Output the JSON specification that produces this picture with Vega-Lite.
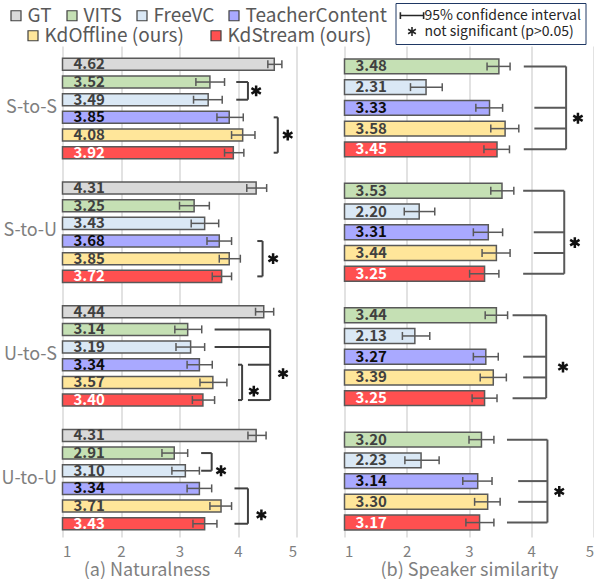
{
  "$schema": "https://vega.github.io/schema/vega-lite/v6.json",
  "padding": {"left": 0.5, "top": 2, "right": 0, "bottom": 0},
  "bounds": "flush",
  "spacing": 48,
  "config": {
    "font": "Noto Sans CJK JP",
    "view": {"stroke": null},
    "axis": {"labelFont": "Noto Sans CJK JP", "titleFont": "Noto Sans CJK JP"},
    "legend": {"labelFont": "Noto Sans CJK JP"}
  },
  "datasets": {
    "nat": [
      {"cond": "S-to-S", "system": "GT", "row": "S-to-S / GT", "score": 4.62, "lo": 4.51, "hi": 4.75},
      {"cond": "S-to-S", "system": "VITS", "row": "S-to-S / VITS", "score": 3.52, "lo": 3.28, "hi": 3.77},
      {"cond": "S-to-S", "system": "FreeVC", "row": "S-to-S / FreeVC", "score": 3.49, "lo": 3.24, "hi": 3.73},
      {"cond": "S-to-S", "system": "TeacherContent", "row": "S-to-S / TeacherContent", "score": 3.85, "lo": 3.64, "hi": 4.09},
      {"cond": "S-to-S", "system": "KdOffline (ours)", "row": "S-to-S / KdOffline (ours)", "score": 4.08, "lo": 3.89, "hi": 4.29},
      {"cond": "S-to-S", "system": "KdStream (ours)", "row": "S-to-S / KdStream (ours)", "score": 3.92, "lo": 3.77, "hi": 4.10},
      {"cond": "S-to-U", "system": "GT", "row": "S-to-U / GT", "score": 4.31, "lo": 4.15, "hi": 4.49},
      {"cond": "S-to-U", "system": "VITS", "row": "S-to-U / VITS", "score": 3.25, "lo": 3.00, "hi": 3.51},
      {"cond": "S-to-U", "system": "FreeVC", "row": "S-to-U / FreeVC", "score": 3.43, "lo": 3.20, "hi": 3.67},
      {"cond": "S-to-U", "system": "TeacherContent", "row": "S-to-U / TeacherContent", "score": 3.68, "lo": 3.47, "hi": 3.89},
      {"cond": "S-to-U", "system": "KdOffline (ours)", "row": "S-to-U / KdOffline (ours)", "score": 3.85, "lo": 3.68, "hi": 4.04},
      {"cond": "S-to-U", "system": "KdStream (ours)", "row": "S-to-U / KdStream (ours)", "score": 3.72, "lo": 3.56, "hi": 3.89},
      {"cond": "U-to-S", "system": "GT", "row": "U-to-S / GT", "score": 4.44, "lo": 4.30, "hi": 4.61},
      {"cond": "U-to-S", "system": "VITS", "row": "U-to-S / VITS", "score": 3.14, "lo": 2.92, "hi": 3.38},
      {"cond": "U-to-S", "system": "FreeVC", "row": "U-to-S / FreeVC", "score": 3.19, "lo": 2.94, "hi": 3.43},
      {"cond": "U-to-S", "system": "TeacherContent", "row": "U-to-S / TeacherContent", "score": 3.34, "lo": 3.13, "hi": 3.56},
      {"cond": "U-to-S", "system": "KdOffline (ours)", "row": "U-to-S / KdOffline (ours)", "score": 3.57, "lo": 3.35, "hi": 3.81},
      {"cond": "U-to-S", "system": "KdStream (ours)", "row": "U-to-S / KdStream (ours)", "score": 3.40, "lo": 3.22, "hi": 3.60},
      {"cond": "U-to-U", "system": "GT", "row": "U-to-U / GT", "score": 4.31, "lo": 4.17, "hi": 4.48},
      {"cond": "U-to-U", "system": "VITS", "row": "U-to-U / VITS", "score": 2.91, "lo": 2.70, "hi": 3.14},
      {"cond": "U-to-U", "system": "FreeVC", "row": "U-to-U / FreeVC", "score": 3.10, "lo": 2.87, "hi": 3.34},
      {"cond": "U-to-U", "system": "TeacherContent", "row": "U-to-U / TeacherContent", "score": 3.34, "lo": 3.13, "hi": 3.55},
      {"cond": "U-to-U", "system": "KdOffline (ours)", "row": "U-to-U / KdOffline (ours)", "score": 3.71, "lo": 3.52, "hi": 3.89},
      {"cond": "U-to-U", "system": "KdStream (ours)", "row": "U-to-U / KdStream (ours)", "score": 3.43, "lo": 3.23, "hi": 3.64}
    ],
    "natBracket": [
      {"row": "S-to-S / VITS", "row2": "S-to-S / FreeVC", "x": 4.17},
      {"row": "S-to-S / TeacherContent", "row2": "S-to-S / KdStream (ours)", "x": 4.68},
      {"row": "S-to-U / TeacherContent", "row2": "S-to-U / KdStream (ours)", "x": 4.42},
      {"row": "U-to-S / VITS", "row2": "U-to-S / KdStream (ours)", "x": 4.55},
      {"row": "U-to-S / TeacherContent", "row2": "U-to-S / KdStream (ours)", "x": 4.07},
      {"row": "U-to-U / VITS", "row2": "U-to-U / FreeVC", "x": 3.55},
      {"row": "U-to-U / TeacherContent", "row2": "U-to-U / KdStream (ours)", "x": 4.17}
    ],
    "natStub": [
      {"row": "S-to-S / VITS", "x": 3.97, "x2": 4.17},
      {"row": "S-to-S / FreeVC", "x": 3.97, "x2": 4.17},
      {"row": "S-to-S / TeacherContent", "x": 4.61, "x2": 4.68},
      {"row": "S-to-S / KdStream (ours)", "x": 4.61, "x2": 4.68},
      {"row": "S-to-U / TeacherContent", "x": 4.33, "x2": 4.42},
      {"row": "S-to-U / KdStream (ours)", "x": 4.33, "x2": 4.42},
      {"row": "U-to-S / VITS", "x": 3.60, "x2": 4.55},
      {"row": "U-to-S / FreeVC", "x": 3.60, "x2": 4.55},
      {"row": "U-to-S / TeacherContent", "x": 4.17, "x2": 4.55},
      {"row": "U-to-S / KdStream (ours)", "x": 4.17, "x2": 4.55},
      {"row": "U-to-S / TeacherContent", "x": 4.00, "x2": 4.07},
      {"row": "U-to-S / KdStream (ours)", "x": 4.00, "x2": 4.07},
      {"row": "U-to-U / VITS", "x": 3.37, "x2": 3.55},
      {"row": "U-to-U / FreeVC", "x": 3.37, "x2": 3.55},
      {"row": "U-to-U / TeacherContent", "x": 3.94, "x2": 4.17},
      {"row": "U-to-U / KdStream (ours)", "x": 3.94, "x2": 4.17}
    ],
    "natStar": [
      {"row": "S-to-S / VITS", "x": 4.31, "place": "between", "note": "not significant (p>0.05)"},
      {"row": "S-to-S / KdOffline (ours)", "x": 4.85, "place": "at", "note": "not significant (p>0.05)"},
      {"row": "S-to-U / KdOffline (ours)", "x": 4.60, "place": "at", "note": "not significant (p>0.05)"},
      {"row": "U-to-S / TeacherContent", "x": 4.77, "place": "between", "note": "not significant (p>0.05)"},
      {"row": "U-to-S / KdOffline (ours)", "x": 4.27, "place": "between", "note": "not significant (p>0.05)"},
      {"row": "U-to-U / FreeVC", "x": 3.71, "place": "at", "note": "not significant (p>0.05)"},
      {"row": "U-to-U / KdOffline (ours)", "x": 4.40, "place": "between", "note": "not significant (p>0.05)"}
    ],
    "spk": [
      {"cond": "S-to-S", "system": "VITS", "row": "S-to-S / VITS", "score": 3.48, "lo": 3.29, "hi": 3.66},
      {"cond": "S-to-S", "system": "FreeVC", "row": "S-to-S / FreeVC", "score": 2.31, "lo": 2.06, "hi": 2.57},
      {"cond": "S-to-S", "system": "TeacherContent", "row": "S-to-S / TeacherContent", "score": 3.33, "lo": 3.11, "hi": 3.54},
      {"cond": "S-to-S", "system": "KdOffline (ours)", "row": "S-to-S / KdOffline (ours)", "score": 3.58, "lo": 3.35, "hi": 3.80},
      {"cond": "S-to-S", "system": "KdStream (ours)", "row": "S-to-S / KdStream (ours)", "score": 3.45, "lo": 3.24, "hi": 3.65},
      {"cond": "S-to-U", "system": "VITS", "row": "S-to-U / VITS", "score": 3.53, "lo": 3.35, "hi": 3.72},
      {"cond": "S-to-U", "system": "FreeVC", "row": "S-to-U / FreeVC", "score": 2.20, "lo": 1.96, "hi": 2.45},
      {"cond": "S-to-U", "system": "TeacherContent", "row": "S-to-U / TeacherContent", "score": 3.31, "lo": 3.07, "hi": 3.54},
      {"cond": "S-to-U", "system": "KdOffline (ours)", "row": "S-to-U / KdOffline (ours)", "score": 3.44, "lo": 3.21, "hi": 3.66},
      {"cond": "S-to-U", "system": "KdStream (ours)", "row": "S-to-U / KdStream (ours)", "score": 3.25, "lo": 3.01, "hi": 3.48},
      {"cond": "U-to-S", "system": "VITS", "row": "U-to-S / VITS", "score": 3.44, "lo": 3.26, "hi": 3.62},
      {"cond": "U-to-S", "system": "FreeVC", "row": "U-to-S / FreeVC", "score": 2.13, "lo": 1.93, "hi": 2.37},
      {"cond": "U-to-S", "system": "TeacherContent", "row": "U-to-S / TeacherContent", "score": 3.27, "lo": 3.07, "hi": 3.47},
      {"cond": "U-to-S", "system": "KdOffline (ours)", "row": "U-to-S / KdOffline (ours)", "score": 3.39, "lo": 3.18, "hi": 3.60},
      {"cond": "U-to-S", "system": "KdStream (ours)", "row": "U-to-S / KdStream (ours)", "score": 3.25, "lo": 3.05, "hi": 3.45},
      {"cond": "U-to-U", "system": "VITS", "row": "U-to-U / VITS", "score": 3.20, "lo": 3.00, "hi": 3.40},
      {"cond": "U-to-U", "system": "FreeVC", "row": "U-to-U / FreeVC", "score": 2.23, "lo": 1.97, "hi": 2.52},
      {"cond": "U-to-U", "system": "TeacherContent", "row": "U-to-U / TeacherContent", "score": 3.14, "lo": 2.90, "hi": 3.37},
      {"cond": "U-to-U", "system": "KdOffline (ours)", "row": "U-to-U / KdOffline (ours)", "score": 3.30, "lo": 3.09, "hi": 3.50},
      {"cond": "U-to-U", "system": "KdStream (ours)", "row": "U-to-U / KdStream (ours)", "score": 3.17, "lo": 2.95, "hi": 3.40}
    ],
    "spkBracket": [
      {"row": "S-to-S / VITS", "row2": "S-to-S / KdStream (ours)", "x": 4.56},
      {"row": "S-to-U / VITS", "row2": "S-to-U / KdStream (ours)", "x": 4.53},
      {"row": "U-to-S / VITS", "row2": "U-to-S / KdStream (ours)", "x": 4.24},
      {"row": "U-to-U / VITS", "row2": "U-to-U / KdStream (ours)", "x": 4.26}
    ],
    "spkStub": [
      {"row": "S-to-S / VITS", "x": 3.88, "x2": 4.56},
      {"row": "S-to-S / TeacherContent", "x": 4.05, "x2": 4.56},
      {"row": "S-to-S / KdOffline (ours)", "x": 4.05, "x2": 4.56},
      {"row": "S-to-S / KdStream (ours)", "x": 3.88, "x2": 4.56},
      {"row": "S-to-U / VITS", "x": 3.87, "x2": 4.53},
      {"row": "S-to-U / TeacherContent", "x": 4.04, "x2": 4.53},
      {"row": "S-to-U / KdOffline (ours)", "x": 4.04, "x2": 4.53},
      {"row": "S-to-U / KdStream (ours)", "x": 3.87, "x2": 4.53},
      {"row": "U-to-S / VITS", "x": 3.70, "x2": 4.24},
      {"row": "U-to-S / TeacherContent", "x": 3.87, "x2": 4.24},
      {"row": "U-to-S / KdOffline (ours)", "x": 3.87, "x2": 4.24},
      {"row": "U-to-S / KdStream (ours)", "x": 3.70, "x2": 4.24},
      {"row": "U-to-U / VITS", "x": 3.61, "x2": 4.26},
      {"row": "U-to-U / TeacherContent", "x": 3.79, "x2": 4.26},
      {"row": "U-to-U / KdOffline (ours)", "x": 3.79, "x2": 4.26},
      {"row": "U-to-U / KdStream (ours)", "x": 3.61, "x2": 4.26}
    ],
    "spkStar": [
      {"row": "S-to-S / TeacherContent", "x": 4.75, "place": "between", "note": "not significant (p>0.05)"},
      {"row": "S-to-U / TeacherContent", "x": 4.70, "place": "between", "note": "not significant (p>0.05)"},
      {"row": "U-to-S / TeacherContent", "x": 4.51, "place": "between", "note": "not significant (p>0.05)"},
      {"row": "U-to-U / TeacherContent", "x": 4.45, "place": "between", "note": "not significant (p>0.05)"}
    ]
  },
  "hconcat": [
    {
      "width": 234,
      "height": 491,
      "resolve": {"scale": {"fill": "independent"}, "legend": {"fill": "independent"}},
      "encoding": {
        "y": {
          "field": "row", "type": "nominal",
          "scale": {
            "domain": ["S-to-S / GT", "S-to-S / VITS", "S-to-S / FreeVC", "S-to-S / TeacherContent", "S-to-S / KdOffline (ours)", "S-to-S / KdStream (ours)", "gap 1",
                       "S-to-U / GT", "S-to-U / VITS", "S-to-U / FreeVC", "S-to-U / TeacherContent", "S-to-U / KdOffline (ours)", "S-to-U / KdStream (ours)", "gap 2",
                       "U-to-S / GT", "U-to-S / VITS", "U-to-S / FreeVC", "U-to-S / TeacherContent", "U-to-S / KdOffline (ours)", "U-to-S / KdStream (ours)", "gap 3",
                       "U-to-U / GT", "U-to-U / VITS", "U-to-U / FreeVC", "U-to-U / TeacherContent", "U-to-U / KdOffline (ours)", "U-to-U / KdStream (ours)"],
            "paddingInner": 0.32, "paddingOuter": 0.555, "align": 0.63
          },
          "axis": {
            "title": null, "domain": false, "ticks": false, "grid": false,
            "labelExpr": "indexof(datum.value, '/ FreeVC') >= 0 ? split(datum.value, ' / ')[0] : ''",
            "labelFontSize": 18, "labelColor": "#7f7f7f", "labelPadding": 6, "labelOffset": 8
          }
        },
        "x": {
          "field": "score", "type": "quantitative",
          "scale": {"domain": [1, 5], "nice": false, "zero": false},
          "axis": {
            "values": [1, 2, 3, 4, 5], "grid": true, "gridColor": "#d9d9d9", "gridWidth": 1.5,
            "domain": false, "ticks": false, "labelFontSize": 15, "labelColor": "#7f7f7f", "labelPadding": 7,
            "title": "(a) Naturalness", "titleFontSize": 18, "titleFontWeight": "normal", "titleColor": "#7f7f7f",
            "titlePadding": 2, "titleX": 84
          }
        }
      },
      "layer": [
        {
          "data": {"name": "nat"},
          "transform": [{"filter": {"field": "system", "oneOf": ["GT", "VITS", "FreeVC", "TeacherContent"]}}],
          "mark": {"type": "bar", "stroke": "#595959", "strokeWidth": 1.5},
          "encoding": {
            "x2": {"datum": 1},
            "fill": {
              "field": "system", "type": "nominal",
              "scale": {
                "domain": ["GT", "VITS", "FreeVC", "TeacherContent"],
                "range": ["#d9d9d9", "#c5e0b4", "#dae8f5", "#a9a9ff"]
              },
              "legend": {
                "orient": "none", "legendX": -56, "legendY": -40, "title": null, "direction": "horizontal",
                "labelFontSize": 19, "labelColor": "#595959",
                "symbolType": "square", "symbolSize": 100, "symbolStrokeColor": "#404040", "symbolStrokeWidth": 1.2,
                "columnPadding": 10, "labelOffset": 2, "labelLimit": 300
              }
            }
          }
        },
        {
          "data": {"name": "nat"},
          "transform": [{"filter": {"field": "system", "oneOf": ["KdOffline (ours)", "KdStream (ours)"]}}],
          "mark": {"type": "bar", "stroke": "#595959", "strokeWidth": 1.5},
          "encoding": {
            "x2": {"datum": 1},
            "fill": {
              "field": "system", "type": "nominal",
              "scale": {
                "domain": ["KdOffline (ours)", "KdStream (ours)"],
                "range": ["#ffe69a", "#ff5050"]
              },
              "legend": {
                "orient": "none", "legendX": -39, "legendY": -20, "title": null, "direction": "horizontal",
                "labelFontSize": 19, "labelColor": "#595959",
                "symbolType": "square", "symbolSize": 100, "symbolStrokeColor": "#404040", "symbolStrokeWidth": 1.2,
                "columnPadding": 22, "labelOffset": 2, "labelLimit": 300
              }
            }
          }
        },
        {
          "data": {"name": "nat"},
          "mark": {"type": "rule", "color": "#595959", "strokeWidth": 1.5},
          "encoding": {
            "x": {"field": "lo", "type": "quantitative"},
            "x2": {"field": "hi"}
          }
        },
        {
          "data": {"name": "nat"},
          "mark": {"type": "tick", "color": "#595959", "size": 8, "thickness": 1.5, "opacity": 1},
          "encoding": {"x": {"field": "lo", "type": "quantitative"}}
        },
        {
          "data": {"name": "nat"},
          "mark": {"type": "tick", "color": "#595959", "size": 8, "thickness": 1.5, "opacity": 1},
          "encoding": {"x": {"field": "hi", "type": "quantitative"}}
        },
        {
          "data": {"name": "nat"},
          "mark": {"type": "text", "align": "left", "baseline": "middle", "dx": 11, "fontSize": 15, "fontWeight": "bold"},
          "encoding": {
            "x": {"datum": 1, "type": "quantitative"},
            "text": {"field": "score", "type": "quantitative", "format": ".2f"},
            "color": {
              "condition": [
                {"test": "datum.system === 'KdStream (ours)'", "value": "#ffffff"},
                {"test": "datum.system === 'TeacherContent'", "value": "#0d0d0d"}
              ],
              "value": "#404040"
            }
          }
        },
        {
          "data": {"name": "natBracket"},
          "mark": {"type": "rule", "color": "#404040", "strokeWidth": 2},
          "encoding": {
            "x": {"field": "x", "type": "quantitative"},
            "y2": {"field": "row2"}
          }
        },
        {
          "data": {"name": "natStub"},
          "mark": {"type": "rule", "color": "#404040", "strokeWidth": 2},
          "encoding": {
            "x": {"field": "x", "type": "quantitative"},
            "x2": {"field": "x2"}
          }
        },
        {
          "data": {"name": "natStar"},
          "transform": [{"filter": "datum.place === 'at'"}],
          "mark": {"type": "point", "filled": false, "size": 324, "strokeWidth": 2.5, "color": "#111111", "opacity": 1},
          "encoding": {
            "x": {"field": "x", "type": "quantitative"},
            "shape": {
              "field": "note", "type": "nominal",
              "scale": {
                "domain": ["95% confidence interval", "not significant (p>0.05)"],
                "range": ["M-1.55,-0.45V0.45M-1.55,0H1.55M1.55,-0.45V0.45", "M0,-0.6V0.6M-0.52,-0.3L0.52,0.3M-0.52,0.3L0.52,-0.3"]
              },
              "legend": {
                "orient": "none", "legendX": 333, "legendY": -43, "title": null,
                "strokeColor": "#1f3864", "fillColor": "#ffffff", "padding": 4,
                "labelFontSize": 14, "labelColor": "#262626", "labelLimit": 300,
                "symbolSize": 225, "symbolStrokeColor": "#262626", "symbolStrokeWidth": 1.6,
                "symbolFillColor": "transparent", "rowPadding": 0, "labelOffset": 4, "symbolOffset": 4
              }
            }
          }
        },
        {
          "data": {"name": "natStar"},
          "transform": [{"filter": "datum.place === 'between'"}],
          "mark": {"type": "point", "filled": false, "size": 324, "strokeWidth": 2.5, "color": "#111111", "opacity": 1},
          "encoding": {
            "x": {"field": "x", "type": "quantitative"},
            "y": {"field": "row", "type": "nominal", "bandPosition": 1.235},
            "shape": {"field": "note", "type": "nominal"}
          }
        }
      ]
    },
    {
      "width": 249,
      "height": 491,
      "encoding": {
        "y": {
          "field": "row", "type": "nominal",
          "scale": {
            "domain": ["S-to-S / VITS", "S-to-S / FreeVC", "S-to-S / TeacherContent", "S-to-S / KdOffline (ours)", "S-to-S / KdStream (ours)", "gap 1",
                       "S-to-U / VITS", "S-to-U / FreeVC", "S-to-U / TeacherContent", "S-to-U / KdOffline (ours)", "S-to-U / KdStream (ours)", "gap 2",
                       "U-to-S / VITS", "U-to-S / FreeVC", "U-to-S / TeacherContent", "U-to-S / KdOffline (ours)", "U-to-S / KdStream (ours)", "gap 3",
                       "U-to-U / VITS", "U-to-U / FreeVC", "U-to-U / TeacherContent", "U-to-U / KdOffline (ours)", "U-to-U / KdStream (ours)"],
            "paddingInner": 0.28, "paddingOuter": 0.48, "align": 0.65
          },
          "axis": {"title": null, "domain": false, "ticks": false, "grid": false, "labels": false}
        },
        "x": {
          "field": "score", "type": "quantitative",
          "scale": {"domain": [1, 5], "nice": false, "zero": false},
          "axis": {
            "values": [1, 2, 3, 4, 5], "grid": true, "gridColor": "#d9d9d9", "gridWidth": 1.5,
            "domain": false, "ticks": false, "labelFontSize": 15, "labelColor": "#7f7f7f", "labelPadding": 7,
            "title": "(b) Speaker similarity", "titleFontSize": 18, "titleFontWeight": "normal", "titleColor": "#7f7f7f",
            "titlePadding": 2
          }
        }
      },
      "layer": [
        {
          "data": {"name": "spk"},
          "mark": {"type": "bar", "stroke": "#595959", "strokeWidth": 1.5},
          "encoding": {
            "x2": {"datum": 1},
            "fill": {
              "field": "system", "type": "nominal",
              "scale": {
                "domain": ["GT", "VITS", "FreeVC", "TeacherContent", "KdOffline (ours)", "KdStream (ours)"],
                "range": ["#d9d9d9", "#c5e0b4", "#dae8f5", "#a9a9ff", "#ffe69a", "#ff5050"]
              },
              "legend": null
            }
          }
        },
        {
          "data": {"name": "spk"},
          "mark": {"type": "rule", "color": "#595959", "strokeWidth": 1.5},
          "encoding": {
            "x": {"field": "lo", "type": "quantitative"},
            "x2": {"field": "hi"}
          }
        },
        {
          "data": {"name": "spk"},
          "mark": {"type": "tick", "color": "#595959", "size": 8, "thickness": 1.5, "opacity": 1},
          "encoding": {"x": {"field": "lo", "type": "quantitative"}}
        },
        {
          "data": {"name": "spk"},
          "mark": {"type": "tick", "color": "#595959", "size": 8, "thickness": 1.5, "opacity": 1},
          "encoding": {"x": {"field": "hi", "type": "quantitative"}}
        },
        {
          "data": {"name": "spk"},
          "mark": {"type": "text", "align": "left", "baseline": "middle", "dx": 11, "fontSize": 15, "fontWeight": "bold"},
          "encoding": {
            "x": {"datum": 1, "type": "quantitative"},
            "text": {"field": "score", "type": "quantitative", "format": ".2f"},
            "color": {
              "condition": [
                {"test": "datum.system === 'KdStream (ours)'", "value": "#ffffff"},
                {"test": "datum.system === 'TeacherContent'", "value": "#0d0d0d"}
              ],
              "value": "#404040"
            }
          }
        },
        {
          "data": {"name": "spkBracket"},
          "mark": {"type": "rule", "color": "#595959", "strokeWidth": 2},
          "encoding": {
            "x": {"field": "x", "type": "quantitative"},
            "y2": {"field": "row2"}
          }
        },
        {
          "data": {"name": "spkStub"},
          "mark": {"type": "rule", "color": "#595959", "strokeWidth": 2},
          "encoding": {
            "x": {"field": "x", "type": "quantitative"},
            "x2": {"field": "x2"}
          }
        },
        {
          "data": {"name": "spkStar"},
          "mark": {"type": "point", "filled": false, "size": 324, "strokeWidth": 2.5, "color": "#111111", "opacity": 1},
          "encoding": {
            "x": {"field": "x", "type": "quantitative"},
            "y": {"field": "row", "type": "nominal", "bandPosition": 1.195},
            "shape": {"field": "note", "type": "nominal"}
          }
        }
      ]
    }
  ]
}
